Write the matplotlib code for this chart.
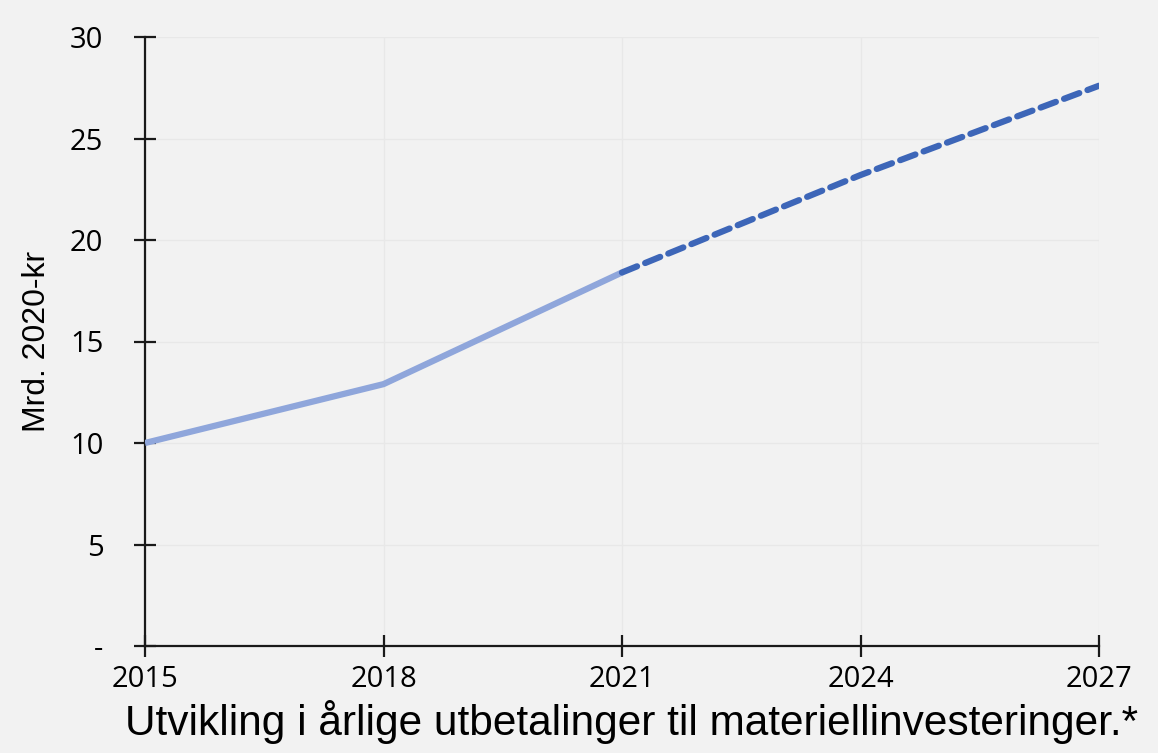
import numpy as np
import matplotlib.pyplot as plt

# historiske tall
years_hist = [2015, 2018, 2021]
values_hist = [10.0, 12.9, 18.4]
# prognose
years_proj = [2021, 2024, 2027]
values_proj = [18.4, 23.2, 27.6]

x_ticks = [2015, 2018, 2021, 2024, 2027]
y_ticks = [0, 5, 10, 15, 20, 25, 30]
y_ticklabels = ["-", "5", "10", "15", "20", "25", "30"]

bg = "#f2f2f2"

fig = plt.figure(figsize=(11.58, 7.53), dpi=100, facecolor=bg)
ax = fig.add_axes([145/1158, 1 - 646/753, (1099-145)/1158, (646-37)/753])
ax.set_facecolor(bg)

ax.plot(years_hist, values_hist, color="#8fa6db", lw=4.5, solid_capstyle="butt")
ax.plot(years_proj, values_proj, color="#3d66b8", lw=4.5,
        dashes=(2.6, 1.4), dash_capstyle="round")

ax.set_xlim(2015, 2027)
ax.set_ylim(0, 30)
ax.set_xticks(x_ticks)
ax.set_yticks(y_ticks)
ax.set_yticklabels(y_ticklabels)
ax.grid(True, color="#e8e8e8", lw=0.9)
ax.set_axisbelow(True)

for s in ["top", "right"]:
    ax.spines[s].set_visible(False)
for s in ["left", "bottom"]:
    ax.spines[s].set_linewidth(1.6)
    ax.spines[s].set_color("#1a1a1a")
    ax.spines[s].set_zorder(1)

ax.tick_params(direction="inout", length=16, width=1.6, color="#1a1a1a",
               labelsize=21, pad=6)
ax.tick_params(axis="y", pad=22)
for lab in ax.get_xticklabels() + ax.get_yticklabels():
    lab.set_family("Open Sans")

ax.set_ylabel("Mrd. 2020-kr", fontsize=23, family="Liberation Sans", labelpad=0)
ax.yaxis.set_label_coords(-0.098, 0.5)
fig.text(0.545, 0.012, "Utvikling i årlige utbetalinger til materiellinvesteringer.*",
         ha="center", va="bottom", fontsize=30.5, family="Liberation Sans")

fig.savefig("out.png", dpi=100, facecolor=bg)
